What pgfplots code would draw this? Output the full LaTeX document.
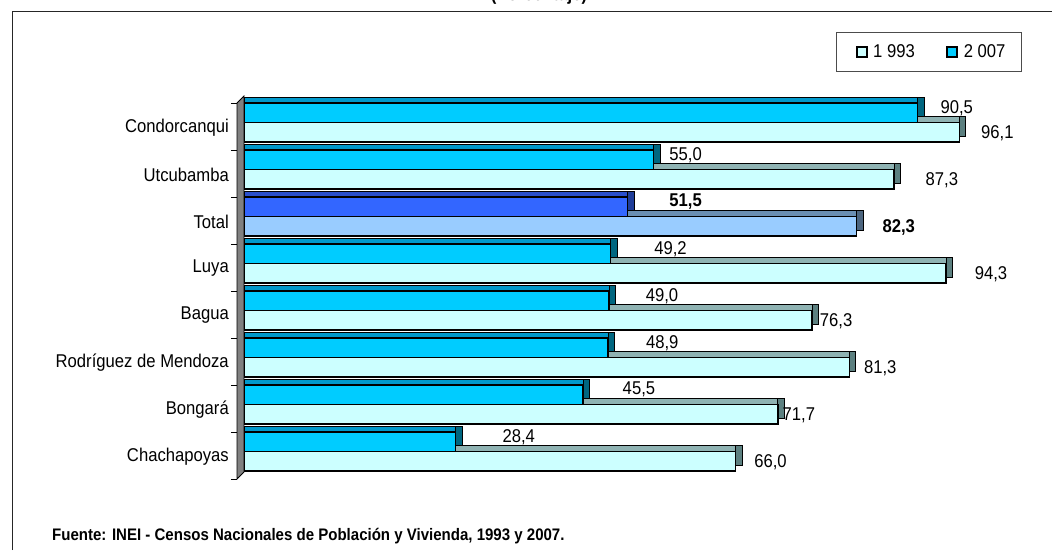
\documentclass[border=0pt]{standalone}
\usepackage{pgfplots}
\pgfplotsset{compat=1.18}
\usepackage{pgfplotstable}
\usepackage{fontspec}
\setmainfont{Liberation Sans}[FakeStretch=0.9]
\newcommand\cf{\fontsize{18.5}{20}\selectfont}

\definecolor{cA}{HTML}{CCFFFF}
\definecolor{cAtop}{HTML}{8FB3B3}
\definecolor{cAside}{HTML}{5C8080}
\definecolor{cB}{HTML}{00CCFF}
\definecolor{cBtop}{HTML}{0099CC}
\definecolor{cBside}{HTML}{006680}
\definecolor{cTA}{HTML}{99CCFF}
\definecolor{cTAtop}{HTML}{6A8FB3}
\definecolor{cTAside}{HTML}{4D6680}
\definecolor{cTB}{HTML}{3366FF}
\definecolor{cTBtop}{HTML}{2A4FCC}
\definecolor{cTBside}{HTML}{1F3D99}

% 1993 (y: 0=Chachapoyas ... 7=Condorcanqui; 5=Total separately)
\pgfplotstableread{
y x dx
0 66.0 35
1 71.7 21
2 81.3 31
3 76.3 24
4 94.3 45
6 87.3 48
7 96.1 38
}\dataA
% 2007
\pgfplotstableread{
y x dx
0 28.4 63
1 45.5 56
2 48.9 54
3 49.0 53
4 49.2 60
6 55.0 32
7 90.5 39
}\dataB
\pgfplotstableread{
y x dx
5 82.3 42
}\totA
\pgfplotstableread{
y x dx
5 51.5 58
}\totB

\begin{document}
\begin{tikzpicture}[x=1pt,y=1pt]
\useasboundingbox (0,0) rectangle (1052,550);
\begin{scope}
\clip (0,0) rectangle (1052,550);
\node[anchor=base, font=\bfseries\cf, inner sep=0pt] at (539,549) {(Porcentaje)};
\end{scope}
\draw[line width=1pt, black!85] (12,0) -- (12,538) -- (1052,538);
\node[anchor=west, inner sep=0pt, font=\bfseries\fontsize{16.7}{18}\selectfont] at (52,13.5) {Fuente: INEI - Censos Nacionales de Población y Vivienda, 1993 y 2007.};

\begin{axis}[
  at={(237pt,71pt)}, anchor=south west,
  scale only axis, width=751.4pt, height=376pt,
  xmin=-1, xmax=100, ymin=-0.585, ymax=7.415,
  clip=false,
  axis x line=none, axis y line*=left,
  y axis line style={line width=1pt},
  ytick={0,...,7},
  yticklabels={Chachapoyas,Bongará,Rodríguez de Mendoza,Bagua,Luya,Total,Utcubamba,Condorcanqui},
  yticklabel style={font=\cf, inner sep=0pt, xshift=-8pt, yshift=-5pt},
  major tick length=0pt,
  extra y ticks={-0.585,0.415,1.415,2.415,3.415,4.415,5.415,6.415,7.415},
  extra y tick labels={},
  extra y tick style={major tick length=6pt, tick align=outside, tick style={draw=black, line width=1pt}},
  bar width=0.415,
  point meta=x,
  /pgf/number format/.cd, fixed, fixed zerofill, precision=1, use comma, assume math mode=true,
  /pgfplots/.cd,
  legend image code/.code={\draw[#1, draw=black, line width=1.8pt] (0pt,-5pt) rectangle (10pt,5pt); \path (-6pt,0pt) (14pt,0pt);},
  legend style={at={(1.0447,1.1364)}, anchor=east, draw=black!70, line width=1pt,
    font=\cf, legend columns=2, inner xsep=14pt, inner ysep=10.5pt,
    /tikz/every even column/.append style={column sep=24pt}},
  lab/.style={nodes near coords={\pgfmathprintnumber{\pgfplotspointmeta}},
    visualization depends on={\thisrow{dx}\as\labdx},
    every node near coord/.append style={anchor=center, xshift=\labdx pt, font=\cf, text=black, inner sep=0pt}},
]
\fill[gray, draw=black, line width=0.8pt] (axis cs:-1,-0.585) -- (axis cs:-0.06,-0.436) -- (axis cs:-0.06,7.564) -- (axis cs:-1,7.415) -- cycle;

\addlegendimage{fill=cA}\addlegendentry{1 993}
\addlegendimage{fill=cB}\addlegendentry{2 007}

% 1993 regular
\addplot[xbar, bar shift=-0.207, fill=cAside, draw=black, line width=0.8pt, xshift=6.5pt, yshift=6pt, forget plot] table[x=x,y=y]{\dataA};
\addplot[xbar, bar shift=-0.207, fill=cAtop, draw=black, line width=0.8pt, yshift=6pt, forget plot] table[x=x,y=y]{\dataA};
\addplot[xbar, bar shift=-0.207, fill=cA, draw=black, line width=1.5pt, forget plot, lab,
  every node near coord/.append style={yshift=-11.2pt}] table[x=x,y=y]{\dataA};
% 1993 total
\addplot[xbar, bar shift=-0.207, fill=cTAside, draw=black, line width=0.8pt, xshift=6.5pt, yshift=6pt, forget plot] table[x=x,y=y]{\totA};
\addplot[xbar, bar shift=-0.207, fill=cTAtop, draw=black, line width=0.8pt, yshift=6pt, forget plot] table[x=x,y=y]{\totA};
\addplot[xbar, bar shift=-0.207, fill=cTA, draw=black, line width=1.5pt, forget plot, lab,
  every node near coord/.append style={yshift=-11.2pt, font=\bfseries\cf}] table[x=x,y=y]{\totA};
% 2007 regular
\addplot[xbar, bar shift=0.207, fill=cBside, draw=black, line width=0.8pt, xshift=6.5pt, yshift=6pt, forget plot] table[x=x,y=y]{\dataB};
\addplot[xbar, bar shift=0.207, fill=cBtop, draw=black, line width=0.8pt, yshift=6pt, forget plot] table[x=x,y=y]{\dataB};
\addplot[xbar, bar shift=0.207, fill=cB, draw=black, line width=1.5pt, forget plot, lab,
  every node near coord/.append style={yshift=14.7pt}] table[x=x,y=y]{\dataB};
% 2007 total
\addplot[xbar, bar shift=0.207, fill=cTBside, draw=black, line width=0.8pt, xshift=6.5pt, yshift=6pt, forget plot] table[x=x,y=y]{\totB};
\addplot[xbar, bar shift=0.207, fill=cTBtop, draw=black, line width=0.8pt, yshift=6pt, forget plot] table[x=x,y=y]{\totB};
\addplot[xbar, bar shift=0.207, fill=cTB, draw=black, line width=1.5pt, forget plot, lab,
  every node near coord/.append style={yshift=14.7pt, font=\bfseries\cf}] table[x=x,y=y]{\totB};
\end{axis}
\end{tikzpicture}
\end{document}
